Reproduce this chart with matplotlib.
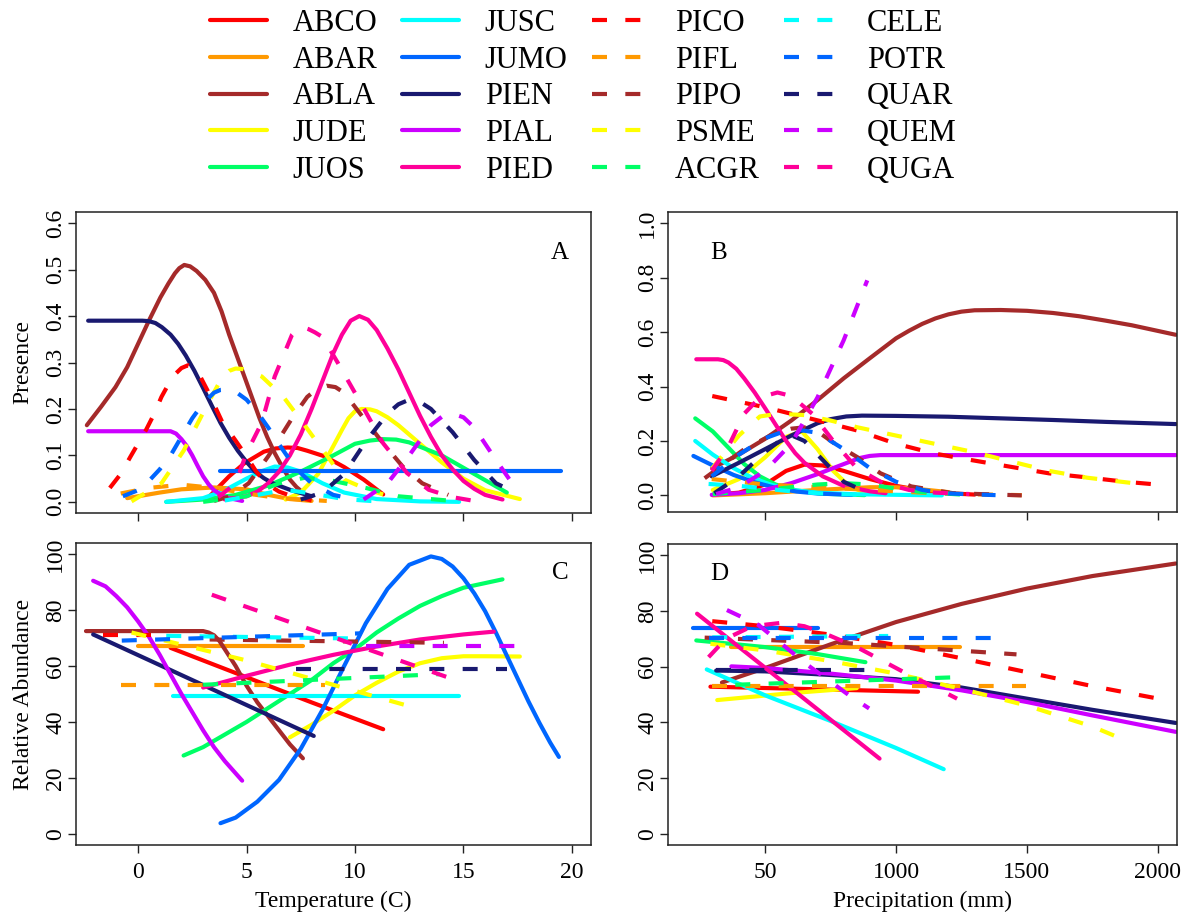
import matplotlib
matplotlib.use("Agg")
import matplotlib.pyplot as plt
from matplotlib.lines import Line2D

plt.rcParams['font.family'] = ['Liberation Serif', 'DejaVu Serif']

species = ["ABCO", "ABAR", "ABLA", "JUDE", "JUOS", "JUSC", "JUMO", "PIEN", "PIAL", "PIED",
           "PICO", "PIFL", "PIPO", "PSME", "ACGR", "CELE", "POTR", "QUAR", "QUEM", "QUGA"]
base_colors = ["#FF0000", "#FF9900", "#A52A2A", "#FFFF00", "#00FF66",
               "#00FFFF", "#0066FF", "#191970", "#CC00FF", "#FF0099"]
colors = base_colors + base_colors
dashed = [False] * 10 + [True] * 10

# Panel A: presence vs temperature (C)
temp_presence = {
    "ABCO": ([3.3, 4.2, 4.9, 5.8, 6.35, 6.9, 7.35, 7.8, 8.6, 9.5, 10.4, 11.3],
             [0.012, 0.055, 0.083, 0.108, 0.115, 0.117, 0.116, 0.11, 0.098, 0.075, 0.048, 0.016]),
    "ABAR": ([-0.5, 1, 2, 3.5, 5, 6, 7, 8],
             [0.008, 0.02, 0.027, 0.031, 0.027, 0.015, 0.006, 0.002]),
    "ABLA": ([-2.36, -1.7, -1.04, -0.5, 0, 0.5, 1.03, 1.4, 1.7, 1.9, 2.13, 2.4, 2.7, 3.1, 3.5, 3.85, 4.2,
              4.55, 4.9, 5.25, 5.6, 5.95, 6.3, 6.65, 7.0, 7.3, 7.6],
             [0.165, 0.205, 0.247, 0.29, 0.34, 0.39, 0.44, 0.47, 0.492, 0.503, 0.51, 0.507, 0.497, 0.478,
              0.45, 0.41, 0.36, 0.315, 0.27, 0.225, 0.18, 0.14, 0.105, 0.075, 0.048, 0.032, 0.02]),
    "JUDE": ([6.8, 7.5, 8.3, 9, 9.4, 9.7, 10, 10.3, 10.7, 11, 11.5, 12, 13, 14, 15, 16, 17.6],
             [0.005, 0.02, 0.06, 0.12, 0.155, 0.18, 0.195, 0.2, 0.199, 0.195, 0.182, 0.165, 0.125, 0.085,
              0.05, 0.025, 0.006]),
    "JUOS": ([1.3, 3, 4.5, 6, 7.5, 9, 10, 10.7, 11.3, 11.9, 12.5, 14, 15.5, 17],
             [0, 0.005, 0.015, 0.035, 0.065, 0.1, 0.125, 0.132, 0.135, 0.134, 0.128, 0.1, 0.06, 0.02]),
    "JUSC": ([1.3, 3, 4, 5, 5.7, 6.3, 6.9, 7.5, 8.5, 9.5, 11, 13, 14.8],
             [0, 0.008, 0.025, 0.05, 0.066, 0.076, 0.074, 0.065, 0.04, 0.02, 0.006, 0.001, 0]),
    "JUMO": ([3.8, 19.5], [0.066, 0.066]),
    "PIEN": ([-2.3, 0.2, 0.5, 0.8, 1.1, 1.5, 1.85, 2.2, 2.6, 3, 3.4, 3.8, 4.2, 4.6, 5, 5.4, 5.8, 6.2, 7, 8],
             [0.39, 0.39, 0.389, 0.385, 0.376, 0.36, 0.34, 0.315, 0.282, 0.245, 0.207, 0.17, 0.138, 0.11,
              0.086, 0.065, 0.051, 0.04, 0.026, 0.012]),
    "PIAL": ([-2.3, 1.5, 1.75, 2, 2.25, 2.5, 2.75, 3, 3.25, 3.5, 4, 4.8],
             [0.152, 0.152, 0.147, 0.135, 0.12, 0.1, 0.077, 0.055, 0.038, 0.025, 0.01, 0.002]),
    "PIED": ([4, 5, 5.5, 6, 6.5, 7, 7.5, 8, 8.5, 9, 9.4, 9.8, 10.2, 10.6, 11, 11.5, 12, 12.5, 13, 13.5,
              14, 14.5, 15, 15.5, 16, 16.8],
             [0.005, 0.012, 0.022, 0.04, 0.065, 0.1, 0.145, 0.2, 0.26, 0.32, 0.36, 0.39, 0.40, 0.392, 0.37,
              0.33, 0.285, 0.235, 0.185, 0.14, 0.1, 0.07, 0.045, 0.028, 0.015, 0.005]),
    "PICO": ([-1.3, -0.8, -0.34, 0.37, 0.75, 1.08, 1.6, 2.0, 2.3, 2.7, 3.2, 3.55, 3.9, 4.45, 5.0, 5.45,
              5.9, 6.5, 7.1, 8],
             [0.03, 0.06, 0.098, 0.155, 0.19, 0.226, 0.27, 0.288, 0.294, 0.285, 0.24, 0.205, 0.17, 0.135,
              0.098, 0.065, 0.04, 0.022, 0.012, 0.003]),
    "PIFL": ([-0.8, 0.5, 2, 3.5, 5, 6.5, 8.7],
             [0.018, 0.03, 0.037, 0.03, 0.018, 0.008, 0.002]),
    "PIPO": ([3.5, 4.25, 5.1, 6.0, 7.1, 7.8, 8.25, 8.7, 9.1, 9.5, 10.4, 11.3, 12.2, 13.1, 14.3],
             [0.002, 0.012, 0.04, 0.098, 0.18, 0.226, 0.243, 0.25, 0.247, 0.235, 0.18, 0.126, 0.076, 0.04,
              0.015]),
    "PSME": ([-0.3, 1.08, 2.1, 3.2, 3.9, 4.2, 4.5, 4.8, 5.2, 5.7, 6.7, 7.6, 8.7, 9.5, 10.6, 11.3],
             [0.001, 0.04, 0.11, 0.21, 0.27, 0.282, 0.287, 0.286, 0.28, 0.27, 0.226, 0.17, 0.1, 0.048,
              0.026, 0.016]),
    "ACGR": ([3, 5, 6.5, 7.7, 9, 10.5, 12, 14.5],
             [0, 0.012, 0.04, 0.052, 0.045, 0.03, 0.012, 0.002]),
    "CELE": ([4, 5.5, 6.8, 8, 9.5, 11],
             [0.003, 0.015, 0.026, 0.018, 0.006, 0.001]),
    "POTR": ([-0.7, 0, 0.5, 1, 1.5, 2, 2.5, 3, 3.5, 3.8, 4.1, 4.5, 5, 5.5, 6, 6.5, 7, 7.5, 8, 9, 10.1],
             [0.012, 0.025, 0.045, 0.07, 0.1, 0.14, 0.18, 0.212, 0.235, 0.241, 0.242, 0.237, 0.22, 0.193,
              0.16, 0.124, 0.09, 0.062, 0.04, 0.015, 0.004]),
    "QUAR": ([7.5, 8.5, 9.5, 10.5, 11.5, 12, 12.5, 13, 13.5, 14.5, 15.5, 16.5, 17.3],
             [0.005, 0.02, 0.06, 0.13, 0.19, 0.21, 0.22, 0.215, 0.2, 0.15, 0.09, 0.04, 0.022]),
    "QUEM": ([10.4, 11.5, 12.5, 13.5, 14, 14.5, 15, 15.5, 16.5, 17.5],
             [0.005, 0.04, 0.1, 0.165, 0.183, 0.19, 0.182, 0.16, 0.09, 0.023]),
    "QUGA": ([3.7, 4.5, 5.0, 5.7, 6.3, 7.1, 7.35, 7.6, 7.85, 8.15, 8.5, 9.2, 10.3, 11.3, 12.4, 13.4,
              14.5, 15.5],
             [0.01, 0.04, 0.105, 0.17, 0.27, 0.36, 0.372, 0.376, 0.372, 0.365, 0.355, 0.3, 0.21, 0.126,
              0.062, 0.026, 0.01, 0.002]),
}

# Panel B: presence vs precipitation (mm)
precip_presence = {
    "ABCO": ([298, 400, 500, 580, 650, 720, 800, 900, 1000, 1100, 1200, 1300],
             [0.002, 0.01, 0.04, 0.09, 0.113, 0.11, 0.09, 0.06, 0.035, 0.018, 0.008, 0.003]),
    "ABAR": ([300, 500, 700, 900, 1000, 1100, 1200],
             [0, 0.008, 0.02, 0.03, 0.03, 0.022, 0.012]),
    "ABLA": ([298, 400, 500, 600, 700, 800, 900, 1000, 1050, 1100, 1150, 1200, 1250, 1300, 1400, 1500,
              1600, 1700, 1800, 1900, 2068],
             [0.10, 0.15, 0.208, 0.275, 0.35, 0.43, 0.504, 0.577, 0.605, 0.63, 0.65, 0.665, 0.675, 0.68,
              0.681, 0.678, 0.67, 0.658, 0.642, 0.625, 0.59]),
    "JUDE": ([300, 400, 500, 580, 640, 700, 760, 820, 880],
             [0.02, 0.06, 0.14, 0.215, 0.235, 0.17, 0.09, 0.035, 0.01]),
    "JUOS": ([233, 300, 360, 420, 480, 540, 620, 720, 880],
             [0.283, 0.235, 0.175, 0.115, 0.07, 0.04, 0.018, 0.006, 0.001]),
    "JUSC": ([233, 300, 380, 450, 520, 600, 700, 850, 1175],
             [0.2, 0.15, 0.1, 0.065, 0.04, 0.02, 0.01, 0.004, 0]),
    "JUMO": ([226, 300, 380, 460, 540, 620, 700, 830],
             [0.145, 0.11, 0.075, 0.048, 0.028, 0.014, 0.007, 0.002]),
    "PIEN": ([296, 400, 500, 600, 700, 750, 810, 870, 1000, 1200, 1400, 1600, 1800, 2068],
             [0.07, 0.12, 0.17, 0.22, 0.265, 0.28, 0.29, 0.293, 0.292, 0.289, 0.283, 0.277, 0.27, 0.262]),
    "PIAL": ([296, 400, 500, 600, 700, 800, 860, 900, 940, 2068],
             [0.002, 0.008, 0.02, 0.045, 0.078, 0.115, 0.137, 0.145, 0.148, 0.148]),
    "PIED": ([237, 320, 340, 360, 390, 420, 460, 500, 540, 580, 615, 650, 720, 800, 900, 960],
             [0.5, 0.5, 0.497, 0.488, 0.465, 0.43, 0.378, 0.32, 0.26, 0.2, 0.155, 0.12, 0.07, 0.035, 0.015,
              0.008]),
    "PICO": ([298, 503, 707, 853, 999, 1145, 1292, 1438, 1584, 1730, 1876, 2007],
             [0.365, 0.323, 0.274, 0.238, 0.19, 0.154, 0.129, 0.105, 0.081, 0.066, 0.05, 0.039]),
    "PIFL": ([296, 500, 700, 900, 1100, 1300, 1480],
             [0.06, 0.04, 0.03, 0.02, 0.01, 0.004, 0.001]),
    "PIPO": ([269, 415, 530, 600, 649, 700, 766, 853, 941, 1058, 1218, 1480],
             [0.063, 0.166, 0.225, 0.245, 0.25, 0.235, 0.19, 0.14, 0.081, 0.033, 0.008, 0.0]),
    "PSME": ([298, 400, 480, 550, 650, 750, 853, 999, 1145, 1292, 1438, 1584, 1730, 1905],
             [0.1, 0.22, 0.29, 0.3, 0.295, 0.275, 0.25, 0.22, 0.19, 0.16, 0.125, 0.09, 0.065, 0.045]),
    "ACGR": ([300, 500, 700, 800, 900, 1000, 1100, 1250],
             [0.005, 0.02, 0.04, 0.045, 0.04, 0.025, 0.012, 0.003]),
    "CELE": ([284, 400, 500, 600, 700, 880],
             [0.042, 0.035, 0.025, 0.015, 0.008, 0.002]),
    "POTR": ([296, 400, 500, 600, 700, 800, 900, 1000, 1100, 1200, 1380],
             [0.07, 0.15, 0.21, 0.245, 0.23, 0.17, 0.1, 0.05, 0.02, 0.007, 0.001]),
    "QUAR": ([306, 400, 500, 590, 650, 720, 800, 880],
             [0.008, 0.07, 0.16, 0.225, 0.2, 0.13, 0.05, 0.015]),
    "QUEM": ([313, 400, 500, 600, 700, 800, 890],
             [0.005, 0.03, 0.09, 0.19, 0.36, 0.57, 0.79]),
    "QUGA": ([296, 360, 420, 480, 547, 600, 680, 760, 850, 950, 1050, 1150, 1280],
             [0.09, 0.18, 0.3, 0.36, 0.378, 0.365, 0.3, 0.2, 0.1, 0.045, 0.02, 0.01, 0.005]),
}

# Panel C: relative abundance vs temperature (C)
temp_abundance = {
    "ABCO": ([1.5, 5, 8, 11.3], [66.5, 56, 47, 37.4]),
    "ABAR": ([0, 7.6], [67, 67]),
    "ABLA": ([-2.4, 3, 3.25, 3.5, 3.75, 4, 4.5, 5, 5.5, 6, 6.5, 7, 7.6],
             [72.5, 72.5, 72, 71, 69, 66, 60, 53, 47, 42, 37, 32, 27]),
    "JUDE": ([7, 8, 9, 10, 11, 12, 13, 14, 15, 16, 17.6],
             [34.5, 39, 44, 49.5, 54, 58, 61, 62.8, 63.5, 63.5, 63.4]),
    "JUOS": ([2.1, 3, 5, 7, 8, 9, 10, 11, 12, 13, 14, 15, 16.8],
             [28, 31, 40, 50, 55, 61, 66, 72, 77, 81.5, 85, 88, 91]),
    "JUSC": ([1.6, 14.8], [49.2, 49.2]),
    "JUMO": ([3.8, 4.5, 5.5, 6.5, 7.5, 8.5, 9.5, 10.5, 11.5, 12.5, 13.5, 14, 14.5, 15, 15.5, 16, 16.5,
              17, 17.5, 18, 18.5, 19, 19.4],
             [3.8, 5.8, 11.5, 19.3, 30.4, 44.3, 60, 75.3, 87.6, 96.2, 99.2, 98.3, 95.6, 91.4, 86, 79.6,
              71.9, 63.7, 55.5, 47.3, 39.7, 32.6, 27.5]),
    "PIEN": ([-2.07, 8.1], [71.3, 35]),
    "PIAL": ([-2.07, -1.5, -1, -0.5, 0, 0.5, 1, 1.5, 2, 2.5, 3, 3.5, 4, 4.4, 4.8],
             [90.5, 88.5, 85, 81, 76, 70.5, 64, 57, 50, 43.5, 37, 31, 26, 22.5, 19]),
    "PIED": ([3, 5, 7, 9, 11, 13, 15, 16.4], [52.3, 56.5, 60.5, 64, 67, 69.5, 71.3, 72.3]),
    "PICO": ([-1.6, 0.6], [71, 71]),
    "PIFL": ([-0.8, 8.6], [53.2, 53.2]),
    "PIPO": ([3.3, 14.1], [69.5, 68.3]),
    "PSME": ([-0.3, 5, 12.8], [72, 62, 45]),
    "ACGR": ([3, 13.9], [53.3, 57.1]),
    "CELE": ([1.3, 10.5], [70.8, 69.8]),
    "POTR": ([-0.75, 10.3], [69.1, 71.7]),
    "QUAR": ([7.3, 17], [58.9, 58.9]),
    "QUEM": ([10.5, 17.5], [67.3, 67.3]),
    "QUGA": ([3.4, 15], [85.5, 54]),
}

# Panel D: relative abundance vs precipitation (mm)
precip_abundance = {
    "ABCO": ([291, 1084], [52.8, 51]),
    "ABAR": ([371, 1245], [67, 67]),
    "ABLA": ([335, 500, 750, 1000, 1250, 1500, 1750, 2068], [54.3, 59.5, 68, 76, 82.5, 88, 92.5, 97]),
    "JUDE": ([317, 600, 850], [48, 50.5, 52.3]),
    "JUOS": ([237, 500, 700, 883], [69.4, 67, 64.5, 61.6]),
    "JUSC": ([277, 500, 750, 1000, 1182], [59, 49.7, 40.5, 30.8, 23.2]),
    "JUMO": ([226, 700], [74, 74]),
    "PIEN": ([313, 500, 750, 1000, 1250, 1500, 1750, 2068], [58.6, 58.3, 57, 55.5, 52.5, 48.5, 44.5, 39.8]),
    "PIAL": ([371, 500, 750, 1000, 1250, 1500, 1750, 2068], [60.1, 59.5, 57.5, 55, 51.5, 47.3, 42.5, 36.6]),
    "PIED": ([240, 937], [79, 27]),
    "PICO": ([298, 500, 750, 1000, 1250, 1500, 1750, 2030], [76.3, 74.5, 71.5, 67.8, 63, 58, 53, 48]),
    "PIFL": ([296, 1496], [52.9, 52.9]),
    "PIPO": ([269, 800, 1460], [70.4, 68.5, 64.4]),
    "PSME": ([291, 500, 750, 1000, 1250, 1500, 1750, 1890], [68.2, 65.8, 62, 57.5, 52, 46, 38.5, 33]),
    "ACGR": ([386, 1233], [53.5, 56.2]),
    "CELE": ([298, 970], [70.5, 71]),
    "POTR": ([284, 1380], [70.2, 70.2]),
    "QUAR": ([313, 890], [58.9, 58.9]),
    "QUEM": ([354, 474, 656, 824, 897], [80.3, 75, 61, 49.5, 45]),
    "QUGA": ([284, 350, 450, 561, 650, 750, 850, 950, 1050, 1150, 1233],
             [63.4, 70, 74.5, 75.7, 74.5, 71, 67, 62, 57, 52.5, 48.5]),
}

temp_ticks = [0, 5, 10, 15, 20]
temp_ticklabels = ["0", "5", "10", "15", "20"]
precip_ticks = [500, 1000, 1500, 2000]
precip_ticklabels = ["50", "1000", "1500", "2000"]
presenceA_ticks = [0.0, 0.1, 0.2, 0.3, 0.4, 0.5, 0.6]
presenceB_ticks = [0.0, 0.2, 0.4, 0.6, 0.8, 1.0]
abund_ticks = [0, 20, 40, 60, 80, 100]

W, H = 1190, 917
fig = plt.figure(figsize=(W / 100, H / 100), dpi=100)

def ax_at(x0, y0, x1, y1):
    return fig.add_axes([x0 / W, 1 - y1 / H, (x1 - x0) / W, (y1 - y0) / H])

axA = ax_at(76, 212, 591, 513)
axB = ax_at(668, 212, 1177, 512)
axC = ax_at(76, 543, 591, 845)
axD = ax_at(668, 544, 1177, 845)

LW = 3.0
DASH = (3.6, 4.4)

def draw(ax, data):
    for name, c, d in zip(species, colors, dashed):
        xs, ys = data[name]
        ln, = ax.plot(xs, ys, color=c, lw=LW, solid_capstyle='round',
                      solid_joinstyle='round')
        if d:
            ln.set_dashes(DASH)
            ln.set_dash_capstyle('butt')

draw(axA, temp_presence)
draw(axB, precip_presence)
draw(axC, temp_abundance)
draw(axD, precip_abundance)

FS = 17
for ax in (axA, axB, axC, axD):
    for s in ax.spines.values():
        s.set_linewidth(1.1)
        s.set_color("#222222")
    ax.tick_params(direction='out', length=6, width=1.0, labelsize=FS, color="#222222")
    ax.tick_params(axis='y', pad=1)
    ax.tick_params(axis='x', pad=6)

axA.set_xlim(-2.86, 20.88)
axC.set_xlim(-2.86, 20.88)
axB.set_xlim(129, 2073)
axD.set_xlim(129, 2073)
axA.set_ylim(-0.024, 0.624)
axB.set_ylim(-0.061, 1.041)
axC.set_ylim(-4, 104)
axD.set_ylim(-4, 104)

for ax in (axA, axC):
    ax.set_xticks(temp_ticks)
axC.set_xticklabels(temp_ticklabels)
axA.set_xticklabels([])
for ax in (axB, axD):
    ax.set_xticks(precip_ticks)
axD.set_xticklabels(precip_ticklabels)
axB.set_xticklabels([])

axA.set_yticks(presenceA_ticks)
axA.set_yticklabels([f"{v:.1f}" for v in presenceA_ticks], rotation=90, va='center')
axB.set_yticks(presenceB_ticks)
axB.set_yticklabels([f"{v:.1f}" for v in presenceB_ticks], rotation=90, va='center')
for ax in (axC, axD):
    ax.set_yticks(abund_ticks)
    ax.set_yticklabels([str(v) for v in abund_ticks], rotation=90, va='center')

axA.set_ylabel("Presence", fontsize=FS)
axC.set_ylabel("Relative Abundance", fontsize=FS)
axA.yaxis.set_label_coords(-0.082, 0.5)
axC.yaxis.set_label_coords(-0.082, 0.5)
axC.set_xlabel("Temperature (C)", fontsize=FS)
axD.set_xlabel("Precipitation (mm)", fontsize=FS)
axC.xaxis.set_label_coords(0.5, -0.152)
axD.xaxis.set_label_coords(0.5, -0.152)

axA.text(19.45, 0.536, "A", fontsize=18, ha='center', va='center')
axB.text(324, 0.89, "B", fontsize=18, ha='center', va='center')
axC.text(19.45, 93.2, "C", fontsize=18, ha='center', va='center')
axD.text(324, 93.2, "D", fontsize=18, ha='center', va='center')

handles = []
for name, c, d in zip(species, colors, dashed):
    h = Line2D([], [], color=c, lw=LW, solid_capstyle='round')
    if d:
        h.set_dashes(DASH)
    handles.append(h)

fig.legend(handles, species, ncol=4, loc='upper left',
           bbox_to_anchor=(210 / W, 1 - 9 / H), frameon=False,
           fontsize=22, handlelength=1.86, handletextpad=0.85,
           columnspacing=0.8, labelspacing=0.25, borderpad=0, borderaxespad=0)

fig.savefig("out.png", dpi=100)
